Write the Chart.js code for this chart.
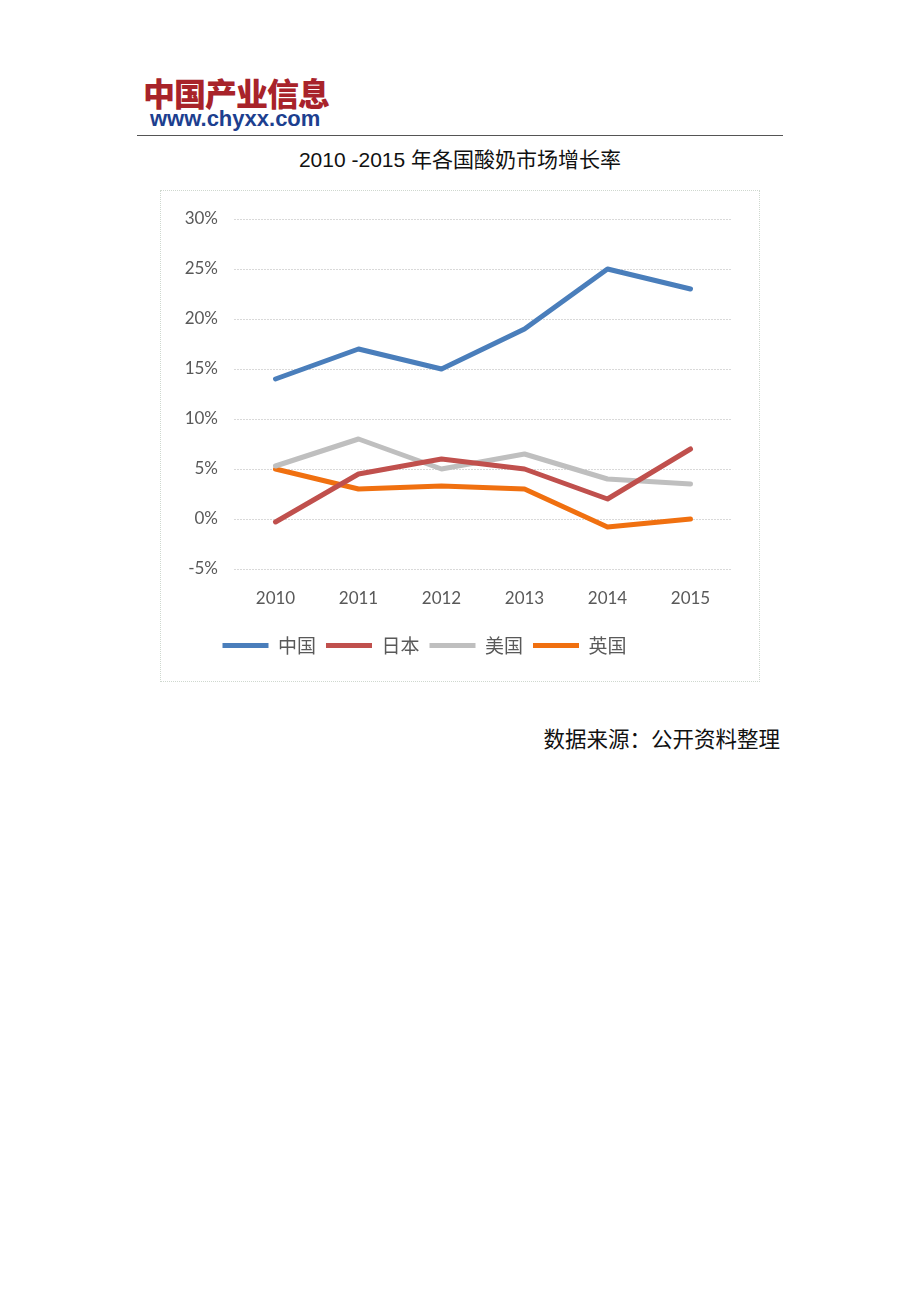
<!DOCTYPE html>
<html><head><meta charset="utf-8">
<script src="https://cdn.jsdelivr.net/npm/chart.js@4.4.0/dist/chart.umd.min.js"></script>
<style>
html,body{margin:0;padding:0;background:#fff;width:920px;height:1302px;position:relative;overflow:hidden;}
#logo{position:absolute;left:143px;top:73px;font-family:"Noto Sans CJK SC";font-weight:900;font-size:32px;color:#a8232a;letter-spacing:-1px;line-height:38px;}
#url{position:absolute;left:150px;top:106px;font-family:"Liberation Sans",Arial;font-weight:bold;font-size:22px;color:#1d3f8f;line-height:26px;}
#rule{position:absolute;left:137px;top:135px;width:646px;height:1px;background:#555;}
#title{position:absolute;left:0;width:920px;top:147px;text-align:center;font-family:"Liberation Sans","Noto Sans CJK SC";font-size:21px;color:#111;line-height:26px;}
#box{position:absolute;left:160px;top:190px;width:598px;height:490px;border:1px dotted #cfd8cf;}
#src{position:absolute;right:140px;top:724px;font-family:"Noto Sans CJK SC";font-size:21.5px;color:#111;line-height:28px;}
</style></head>
<body>
<div id="logo">中国产业信息</div>
<div id="url">www.chyxx.com</div>
<div id="rule"></div>
<div id="title">2010 -2015 年各国酸奶市场增长率</div>
<div id="box"><canvas id="c" width="598" height="490"></canvas></div>
<div id="src">数据来源：公开资料整理</div>
<script>
const categories = ["2010","2011","2012","2013","2014","2015"];
const seriesNames = ["中国","日本","美国","英国"];
const china = [14, 17, 15, 19, 25, 23];
const japan = [-0.3, 4.5, 6, 5, 2, 7];
const usa = [5.3, 8, 5, 6.5, 4, 3.5];
const uk = [5, 3, 3.3, 3, -0.8, 0];
const colors = ["#4a7ebb", "#c0504d", "#bfbfbf", "#f07010"];
const yTicks = [-5, 0, 5, 10, 15, 20, 25, 30];

const data = [china, japan, usa, uk];
const shiftLegend = {
  id: 'shiftLegend',
  afterLayout(chart) { if (chart.legend) { chart.legend.left -= 22; chart.legend.right -= 22; } }
};
new Chart(document.getElementById('c'), {
  type: 'line',
  data: {
    labels: categories,
    datasets: seriesNames.map((n, i) => ({
      label: n, data: data[i], borderColor: colors[i], backgroundColor: colors[i],
      borderWidth: 5, pointRadius: 0, tension: 0, borderCapStyle: 'round', borderJoinStyle: 'round', pointStyle: 'line'
    }))
  },
  plugins: [shiftLegend],
  options: {
    responsive: false, animation: false,
    layout: { padding: { left: 0, right: 27, top: 28, bottom: 16 } },
    scales: {
      x: {
        offset: true,
        grid: { display: false, drawTicks: false },
        border: { display: false },
        ticks: { color: '#595959', font: { family: 'Lato, "Open Sans"', size: 17 }, padding: 19 },
        afterFit: s => { s.height = 57; }
      },
      y: {
        min: -5, max: 30,
        afterBuildTicks: s => { s.ticks = yTicks.map(v => ({ value: v })); },
        grid: { color: '#d9d9d9', lineWidth: 1, drawTicks: false },
        border: { display: false, dash: [2, 1] },
        ticks: { color: '#595959', font: { family: 'Lato, "Open Sans"', size: 17 }, padding: 16, callback: v => v + '%' },
        afterFit: s => { s.width = 73; }
      }
    },
    plugins: {
      legend: {
        position: 'bottom',
        labels: {
          usePointStyle: true, pointStyle: 'line', pointStyleWidth: 46, boxHeight: 10,
          color: '#595959', font: { family: '"Noto Sans CJK SC"', size: 19 }, padding: 10
        }
      },
      tooltip: { enabled: false }
    }
  }
});
</script>
</body></html>
